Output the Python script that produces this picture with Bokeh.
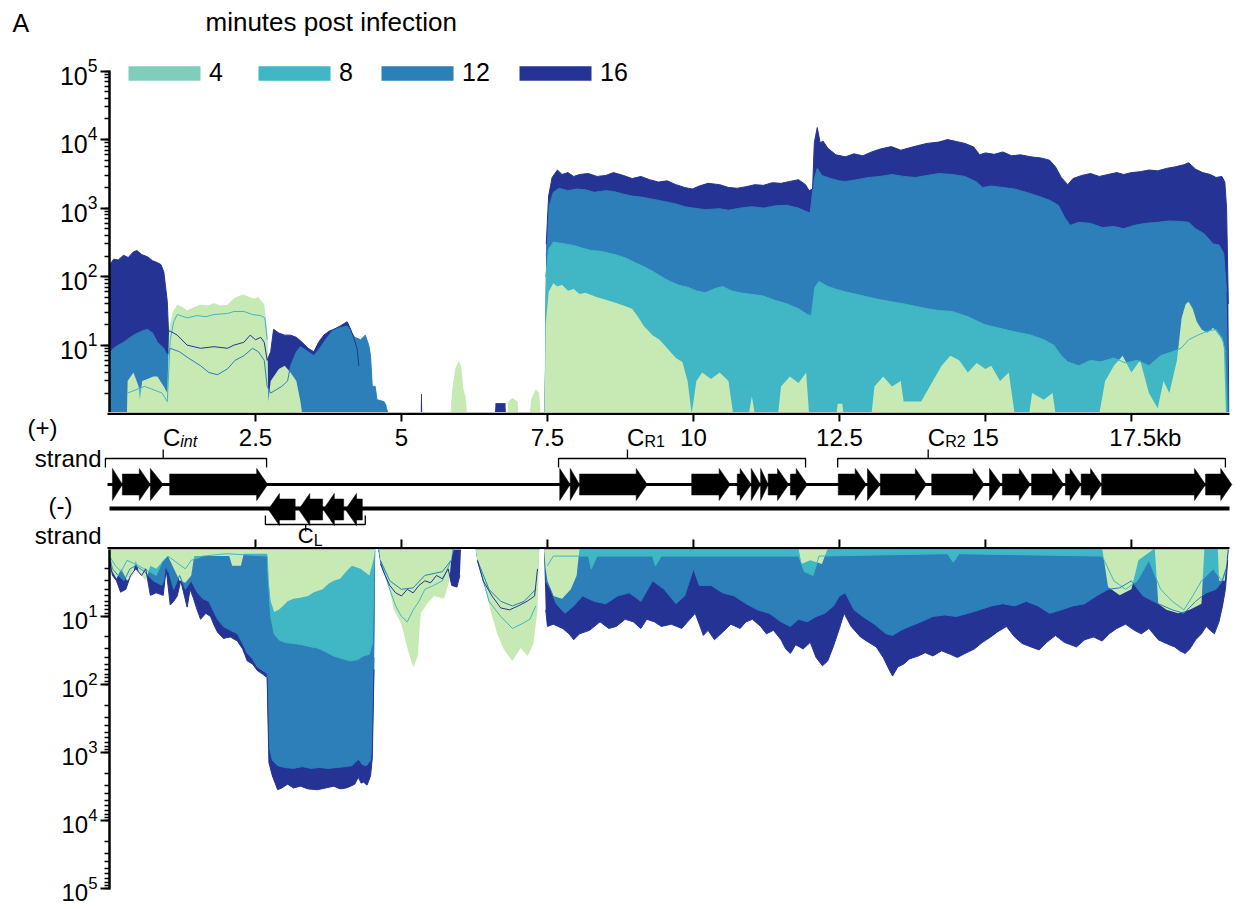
import numpy as np
from bokeh.plotting import figure
from bokeh.models import Range1d, Legend, LegendItem
from bokeh.layouts import column
from bokeh.embed import file_html
from bokeh.resources import INLINE
from bokeh.core.properties import value

FONT = "Liberation Sans"
KB_MAX = 19.18

# ---------------- data: coverage (+) strand, (kb, reads) ----------------
plus_16 = [(0.0, 1), (0.01, 150), (0.07, 180), (0.15, 175), (0.24, 205), (0.32, 190), (0.41, 230), (0.47, 240),
           (0.55, 210), (0.65, 195), (0.74, 170), (0.82, 160), (0.88, 150), (0.93, 118), (0.97, 60), (0.99, 43),
           (1.01, 16), (1.04, 16), (1.16, 14), (1.33, 10), (1.56, 9), (1.79, 9.5), (2.02, 9), (2.13, 10), (2.3, 11),
           (2.41, 14), (2.5, 12), (2.59, 13), (2.65, 11), (2.7, 6), (2.76, 8), (2.81, 17), (2.9, 15), (3.0, 14),
           (3.1, 14), (3.2, 13), (3.3, 11), (3.4, 9), (3.5, 8), (3.58, 11), (3.67, 14), (3.76, 16), (3.84, 17),
           (3.95, 19), (4.07, 22), (4.13, 17), (4.18, 13), (4.24, 9), (4.27, 5), (4.3, 1),
           (5.33, 1), (5.335, 1.9), (5.35, 1.9), (5.355, 1), (6.6, 1), (6.61, 1.4), (6.78, 1.4), (6.79, 1), (7.45, 1),
           (7.48, 300), (7.52, 1500), (7.58, 2800), (7.67, 3600), (7.75, 3100), (7.85, 3300), (7.95, 2900),
           (8.05, 3100), (8.2, 3200), (8.35, 2900), (8.5, 3000), (8.63, 3300), (8.8, 3000), (8.95, 2700),
           (9.1, 2900), (9.25, 2600), (9.4, 2400), (9.55, 2500), (9.7, 2200), (9.85, 2000), (9.98, 1900),
           (10.1, 2100), (10.25, 2300), (10.45, 2200), (10.6, 2000), (10.75, 1950), (10.9, 2050), (11.05, 2200),
           (11.2, 2150), (11.35, 2350), (11.5, 2300), (11.65, 2450), (11.8, 2600), (11.92, 2200), (11.98, 1800),
           (12.04, 1900), (12.07, 9000), (12.12, 15000), (12.17, 9000), (12.22, 9500), (12.3, 7500), (12.44, 6000),
           (12.6, 5600), (12.75, 6200), (12.9, 5800), (13.05, 6600), (13.2, 7300), (13.39, 7900), (13.55, 7000),
           (13.7, 7600), (13.85, 8200), (14.0, 8800), (14.2, 9200), (14.35, 10000), (14.5, 9400), (14.65, 8800),
           (14.8, 7800), (14.9, 6000), (15.0, 6400), (15.15, 6100), (15.3, 6600), (15.45, 5800), (15.6, 6000),
           (15.78, 5600), (15.95, 5400), (16.1, 5000), (16.2, 4000), (16.3, 2800), (16.41, 2200), (16.5, 2700),
           (16.65, 3000), (16.8, 3200), (16.95, 2900), (17.1, 3100), (17.25, 3300), (17.37, 3100), (17.5, 3300),
           (17.65, 3400), (17.8, 3600), (17.95, 3500), (18.1, 3800), (18.25, 4000), (18.4, 4300), (18.48, 4600),
           (18.6, 3700), (18.72, 3300), (18.85, 3100), (18.95, 2800), (19.05, 2900), (19.1, 2400), (19.13, 1000),
           (19.16, 40), (19.18, 1)]

plus_12 = [(0.0, 1), (0.01, 8), (0.07, 9), (0.15, 10), (0.24, 11), (0.41, 14), (0.55, 16), (0.65, 17), (0.74, 15),
           (0.82, 11), (0.93, 9), (0.99, 7), (1.04, 9), (1.2, 8), (1.35, 6.5), (1.56, 5), (1.7, 4), (1.85, 3.7),
           (2.02, 4.5), (2.15, 6), (2.3, 7), (2.45, 9), (2.55, 8), (2.65, 6), (2.7, 2.5), (2.76, 2), (2.95, 2.5),
           (3.05, 3), (3.1, 5), (3.2, 8), (3.27, 9.5), (3.4, 8), (3.5, 7), (3.6, 9), (3.7, 12), (3.84, 17),
           (3.95, 18), (4.07, 19), (4.2, 13), (4.3, 12), (4.38, 14), (4.44, 10), (4.47, 7), (4.5, 2.5), (4.55, 2.5),
           (4.58, 1.6), (4.7, 1.5), (4.74, 1.3), (4.78, 1), (7.45, 1),
           (7.48, 200), (7.52, 1000), (7.6, 1700), (7.7, 1950), (7.85, 1800), (8.0, 1900), (8.15, 1850),
           (8.3, 1700), (8.5, 1800), (8.63, 1750), (8.8, 1600), (8.95, 1500), (9.1, 1450), (9.3, 1350), (9.5, 1250),
           (9.7, 1150), (9.85, 1050), (10.0, 1000), (10.2, 950), (10.45, 980), (10.6, 930), (10.8, 1000),
           (11.0, 1050), (11.2, 1000), (11.4, 1080), (11.6, 1100), (11.8, 1000), (11.92, 900), (12.0, 850),
           (12.06, 2500), (12.12, 3800), (12.2, 3000), (12.35, 2700), (12.5, 2500), (12.6, 2450), (12.8, 2600),
           (13.0, 2800), (13.2, 2900), (13.4, 3100), (13.6, 2900), (13.8, 2800), (14.0, 3000), (14.2, 3200),
           (14.43, 3100), (14.65, 2900), (14.85, 2400), (14.95, 2000), (15.1, 2100), (15.3, 2000), (15.5, 1900),
           (15.7, 1700), (15.9, 1500), (16.1, 1300), (16.25, 1100), (16.35, 750), (16.45, 560), (16.6, 620),
           (16.8, 600), (17.0, 520), (17.2, 540), (17.37, 500), (17.55, 560), (17.75, 600), (17.95, 620),
           (18.15, 650), (18.35, 640), (18.48, 620), (18.6, 500), (18.75, 420), (18.9, 300), (19.0, 290),
           (19.08, 220), (19.13, 60), (19.17, 1)]

plus_8 = [(0.0, 1), (0.3, 1), (0.31, 2), (0.6, 2.5), (0.9, 2), (0.99, 1.5), (1.04, 12), (1.1, 22), (1.16, 28),
          (1.33, 25), (1.5, 27), (1.65, 26), (1.79, 28), (2.02, 29), (2.13, 31), (2.3, 31), (2.45, 28), (2.59, 27),
          (2.66, 25), (2.7, 12), (2.72, 1), (7.45, 1),
          (7.47, 100), (7.52, 250), (7.6, 320), (7.7, 310), (7.8, 300), (7.95, 285), (8.1, 260), (8.25, 240),
          (8.4, 235), (8.55, 220), (8.7, 205), (8.85, 185), (9.0, 160), (9.15, 140), (9.3, 120), (9.45, 100),
          (9.6, 85), (9.75, 75), (9.9, 70), (10.05, 62), (10.2, 58), (10.35, 66), (10.5, 72), (10.65, 62),
          (10.8, 58), (11.0, 55), (11.2, 52), (11.4, 45), (11.6, 40), (11.8, 34), (11.95, 28), (12.02, 27),
          (12.08, 70), (12.15, 85), (12.3, 72), (12.45, 65), (12.6, 60), (12.8, 55), (13.0, 50), (13.2, 46),
          (13.39, 43), (13.6, 40), (13.8, 37), (14.0, 34), (14.2, 32), (14.43, 31), (14.7, 26), (14.98, 20),
          (15.2, 18), (15.45, 16), (15.78, 14), (16.0, 12), (16.17, 10), (16.3, 7), (16.41, 5.7), (16.6, 5),
          (16.8, 6), (16.97, 5.7), (17.2, 6.5), (17.4, 5.5), (17.6, 6), (17.8, 5), (18.0, 7), (18.2, 8),
          (18.35, 9), (18.48, 12), (18.64, 14), (18.8, 16), (18.95, 17), (19.05, 13), (19.11, 8), (19.15, 1)]

plus_4 = [(0.0, 1), (0.3, 1), (0.31, 3), (0.41, 4), (0.5, 2.5), (0.52, 1.6), (0.56, 3), (0.65, 3.2), (0.75, 3.5),
          (0.82, 3.5), (0.93, 2.5), (0.99, 2), (1.02, 17), (1.08, 30), (1.16, 39), (1.25, 36), (1.33, 32),
          (1.45, 36), (1.56, 39), (1.68, 38), (1.79, 41), (1.9, 38), (2.02, 39), (2.13, 48), (2.22, 52), (2.3, 55),
          (2.4, 50), (2.47, 48), (2.55, 50), (2.59, 45), (2.65, 40), (2.7, 17), (2.72, 1.5), (2.76, 3), (2.9, 4.5),
          (3.0, 5), (3.1, 4), (3.2, 3), (3.27, 1.5), (3.3, 1),
          (5.84, 1), (5.87, 2.3), (5.92, 4.5), (5.98, 5.9), (6.02, 5), (6.06, 2.3), (6.1, 1.7), (6.12, 1),
          (6.82, 1), (6.83, 1.5), (6.9, 1.7), (6.99, 1.5), (7.0, 1), (7.2, 1), (7.22, 1.6), (7.3, 2.3), (7.36, 2.0),
          (7.38, 1), (7.45, 1),
          (7.47, 20), (7.52, 60), (7.6, 80), (7.67, 72), (7.75, 76), (7.85, 62), (7.95, 66), (8.05, 56),
          (8.15, 58), (8.23, 55), (8.35, 50), (8.5, 46), (8.65, 42), (8.8, 38), (8.95, 34), (9.05, 26),
          (9.15, 19), (9.3, 14), (9.42, 12), (9.55, 9), (9.7, 6.5), (9.81, 5.7), (9.9, 3), (9.97, 1), (10.05, 3),
          (10.15, 4), (10.3, 3.2), (10.45, 4), (10.6, 3), (10.68, 1), (10.95, 1), (11.0, 1.8), (11.05, 1),
          (11.45, 1), (11.5, 2.5), (11.65, 3.5), (11.8, 2.8), (11.93, 4), (11.98, 1), (12.45, 1), (12.47, 1.4),
          (12.55, 1.4), (12.57, 1), (13.05, 1), (13.1, 2.5), (13.25, 3.5), (13.4, 2.5), (13.55, 3), (13.6, 1.5),
          (13.9, 1.5), (14.1, 3), (14.25, 5), (14.4, 7), (14.55, 6), (14.7, 4), (14.85, 5.5), (15.0, 4.5),
          (15.1, 5), (15.25, 3), (15.4, 4), (15.5, 1), (15.75, 1), (15.8, 2), (16.0, 1.6), (16.15, 2), (16.2, 1),
          (16.95, 1), (17.05, 3), (17.2, 5), (17.35, 7), (17.5, 4), (17.65, 6), (17.8, 2), (17.95, 1.2),
          (18.05, 3), (18.15, 2), (18.28, 6), (18.36, 25), (18.43, 40), (18.48, 43), (18.55, 34), (18.62, 22),
          (18.7, 17), (18.8, 15), (18.9, 18), (19.0, 14), (19.08, 11), (19.12, 1)]

# ---------------- data: coverage (-) strand, (kb, reads) ----------------
minus_16 = [(0.0, 1.5), (0.05, 2.5), (0.12, 3), (0.19, 4.4), (0.28, 4), (0.36, 2.5), (0.45, 2), (0.55, 2.5),
            (0.62, 2), (0.7, 4.9), (0.8, 4.5), (0.92, 4.9), (0.97, 2), (1.04, 6.8), (1.1, 6), (1.16, 5), (1.22, 3),
            (1.33, 7.3), (1.38, 4), (1.44, 5.5), (1.5, 8), (1.56, 11), (1.65, 9), (1.73, 10), (1.8, 14),
            (1.85, 17), (1.95, 21), (2.07, 20), (2.19, 23), (2.28, 30), (2.36, 45), (2.45, 50), (2.53, 62),
            (2.62, 70), (2.7, 79), (2.73, 1400), (2.79, 2200), (2.88, 3500), (2.95, 3300), (3.05, 2900),
            (3.15, 3300), (3.27, 3100), (3.4, 3400), (3.56, 3500), (3.7, 3300), (3.84, 3100), (3.95, 3400),
            (4.05, 3300), (4.13, 3100), (4.2, 2900), (4.26, 2300), (4.31, 2800), (4.35, 2700), (4.41, 3000),
            (4.47, 2200), (4.5, 1200), (4.53, 60), (4.55, 1),
            (4.6, 1), (4.64, 1.7), (4.72, 2.5), (4.8, 3.5), (4.9, 4.5), (5.0, 5), (5.1, 4), (5.2, 4.5), (5.3, 3.5),
            (5.4, 3), (5.5, 3.2), (5.6, 2.5), (5.7, 2.8), (5.8, 2), (5.86, 3.5), (5.95, 3.7), (6.0, 2.5), (6.02, 1),
            (6.27, 1), (6.3, 1.5), (6.4, 3), (6.55, 5), (6.7, 7.5), (6.85, 8), (7.0, 7), (7.15, 6), (7.28, 5),
            (7.33, 2), (7.36, 1), (7.44, 1),
            (7.47, 8), (7.5, 14), (7.6, 13), (7.76, 15), (7.87, 18), (7.95, 22), (8.05, 18), (8.22, 16), (8.4, 12),
            (8.55, 15), (8.68, 14), (8.83, 11), (8.97, 12), (9.1, 15), (9.2, 11), (9.33, 12), (9.45, 14),
            (9.62, 13), (9.8, 15), (9.9, 12), (10.03, 9), (10.1, 13), (10.17, 19), (10.25, 16), (10.36, 22),
            (10.5, 17), (10.64, 13), (10.8, 15), (10.9, 12), (11.01, 11), (11.15, 14), (11.25, 18), (11.37, 16),
            (11.5, 22), (11.58, 30), (11.66, 35), (11.75, 26), (11.88, 30), (12.0, 24), (12.1, 40), (12.21, 53),
            (12.3, 45), (12.4, 27), (12.5, 15), (12.58, 9), (12.7, 14), (12.86, 20), (13.0, 24), (13.13, 28),
            (13.25, 40), (13.35, 60), (13.41, 75), (13.5, 55), (13.6, 50), (13.7, 42), (13.85, 38), (13.97, 34),
            (14.1, 38), (14.25, 32), (14.4, 36), (14.52, 40), (14.65, 35), (14.81, 30), (14.95, 24), (15.09, 20),
            (15.2, 17), (15.36, 14), (15.5, 20), (15.63, 25), (15.78, 28), (15.92, 31), (16.05, 24), (16.2, 19),
            (16.35, 24), (16.56, 28), (16.7, 22), (16.85, 20), (17.0, 23), (17.12, 18), (17.25, 15), (17.4, 13),
            (17.55, 16), (17.67, 18), (17.8, 15), (17.96, 22), (18.1, 25), (18.24, 28), (18.33, 32), (18.42, 35),
            (18.5, 30), (18.6, 22), (18.7, 18), (18.78, 14), (18.85, 16), (18.92, 18), (19.0, 12), (19.06, 7),
            (19.11, 4), (19.15, 1.5), (19.17, 1)]

minus_12 = [(0.0, 1.3), (0.05, 2), (0.15, 2.5), (0.25, 3), (0.35, 2), (0.45, 1.8), (0.6, 2.2), (0.75, 3), (0.9, 3.5),
            (1.0, 2), (1.1, 4), (1.2, 2.5), (1.3, 4), (1.4, 3), (1.5, 4.4), (1.6, 5.5), (1.7, 6), (1.85, 11),
            (1.95, 14), (2.07, 16), (2.19, 18), (2.28, 25), (2.36, 35), (2.45, 42), (2.53, 55), (2.62, 62),
            (2.7, 69), (2.73, 800), (2.79, 1300), (2.88, 1550), (3.0, 1650), (3.15, 1700), (3.3, 1600),
            (3.45, 1700), (3.6, 1650), (3.75, 1700), (3.9, 1650), (4.05, 1600), (4.15, 1550), (4.22, 1350),
            (4.27, 1250), (4.33, 1500), (4.4, 1550), (4.47, 1300), (4.5, 700), (4.53, 40), (4.55, 1),
            (4.6, 1), (4.64, 1.5), (4.8, 3), (5.0, 4), (5.2, 3.8), (5.4, 2.5), (5.7, 2.2), (5.85, 1.5), (5.9, 1),
            (6.27, 1), (6.3, 1.5), (6.5, 4), (6.7, 6), (6.9, 7), (7.1, 6), (7.3, 4), (7.36, 1), (7.44, 1),
            (7.47, 3), (7.55, 4), (7.65, 6.5), (7.8, 9), (7.95, 7), (8.1, 5), (8.3, 6), (8.5, 6.5), (8.7, 5),
            (8.9, 4.5), (9.1, 6), (9.3, 3), (9.5, 4), (9.7, 6.5), (9.85, 5), (10.0, 2), (10.1, 3.5), (10.3, 3.5),
            (10.5, 4.5), (10.7, 5), (10.9, 6.5), (11.1, 8), (11.3, 9), (11.5, 12), (11.66, 14), (11.8, 11),
            (11.95, 12), (12.1, 10), (12.25, 9), (12.4, 7), (12.5, 5), (12.6, 4.5), (12.75, 8), (12.9, 10),
            (13.1, 13), (13.3, 18), (13.41, 19), (13.55, 16), (13.7, 14), (13.9, 12), (14.1, 10), (14.3, 9.5),
            (14.5, 10), (14.7, 9), (14.9, 8), (15.1, 7), (15.3, 6.5), (15.5, 7), (15.7, 6), (15.9, 7), (16.1, 9),
            (16.3, 8), (16.5, 7), (16.7, 6.5), (16.9, 5), (17.1, 4), (17.3, 3.8), (17.5, 3), (17.7, 5),
            (17.96, 6.5), (18.2, 8), (18.4, 9), (18.6, 6), (18.78, 4.5), (18.95, 4), (19.06, 3), (19.12, 2),
            (19.15, 1)]

minus_8 = [(0.0, 1.3), (0.1, 1.8), (0.2, 2.2), (0.3, 1.5), (0.5, 1.8), (0.8, 2.5), (0.9, 1.6), (1.0, 1.3), (1.3, 2),
           (1.4, 1.5), (1.6, 1.3), (2.0, 1.2), (2.7, 1.3), (2.72, 3), (2.76, 10), (2.82, 18), (2.9, 22), (3.0, 24),
           (3.15, 25), (3.3, 26), (3.45, 28), (3.56, 29), (3.7, 33), (3.84, 38), (4.0, 42), (4.13, 45), (4.25, 43),
           (4.35, 38), (4.45, 36), (4.5, 25), (4.53, 3), (4.55, 1),
           (4.6, 1), (4.64, 1.5), (4.8, 4), (4.9, 7), (5.0, 10), (5.1, 12), (5.2, 8), (5.3, 6), (5.4, 4),
           (5.55, 3.5), (5.7, 3), (5.85, 1.5), (5.9, 1), (6.27, 1), (6.3, 1.5), (6.5, 6), (6.7, 10), (6.9, 15),
           (7.05, 13), (7.2, 11), (7.3, 7), (7.36, 1), (7.44, 1), (7.5, 1.8), (7.6, 1.3), (8.2, 1.3), (8.25, 2),
           (8.35, 1.3), (9.3, 1.3), (9.35, 1.8), (9.45, 1.3), (11.8, 1.3), (11.9, 2.2), (12.05, 2.5), (12.15, 1.3),
           (14.35, 1.2), (14.45, 1.6), (14.55, 1.2), (17.0, 1.3), (17.2, 3), (17.4, 4), (17.6, 3), (17.8, 1.5),
           (18.0, 4), (18.2, 6), (18.4, 8), (18.55, 5), (18.7, 3), (18.9, 2), (19.05, 3), (19.12, 2), (19.15, 1)]

minus_4 = [(0.0, 1.5), (0.05, 2.2), (0.12, 2.8), (0.2, 2), (0.3, 3), (0.4, 2.5), (0.45, 1.5), (0.5, 2.2), (0.62, 3),
           (0.7, 1.8), (0.8, 2), (1.0, 1.3), (1.2, 3), (1.3, 3.2), (1.4, 2.5), (1.45, 1.3), (2.05, 1.3), (2.1, 1.8),
           (2.25, 1.8), (2.3, 1.2), (2.7, 1.2), (2.72, 3), (2.76, 6), (2.82, 8.6), (2.9, 8), (2.97, 7), (3.05, 6),
           (3.15, 5.5), (3.27, 5.3), (3.4, 5), (3.5, 4.4), (3.65, 4), (3.75, 3.3), (3.84, 3), (3.95, 2.8),
           (4.05, 2.2), (4.15, 1.8), (4.3, 2), (4.45, 2.5), (4.52, 1.5), (4.55, 1),
           (4.62, 1), (4.64, 1.5), (4.76, 3), (4.87, 8), (5.0, 13), (5.1, 29), (5.2, 56), (5.28, 38), (5.33, 9),
           (5.44, 6.5), (5.56, 5), (5.73, 5.5), (5.82, 3), (5.87, 1),
           (6.27, 1), (6.3, 1.5), (6.41, 3), (6.52, 8), (6.64, 18), (6.75, 30), (6.9, 45), (7.04, 29), (7.16, 38),
           (7.26, 25), (7.33, 8), (7.36, 1), (7.44, 1), (7.47, 2), (7.5, 3), (7.6, 5), (7.75, 5.5), (7.9, 4),
           (8.0, 2.5), (8.05, 1), (11.8, 1), (11.85, 1.7), (12.0, 1.5), (12.2, 1.7), (12.3, 1), (17.0, 1),
           (17.1, 3.7), (17.3, 4.9), (17.5, 4), (17.62, 1.5), (17.9, 1), (17.96, 6.5), (18.1, 8), (18.3, 9),
           (18.5, 8), (18.7, 6.5), (18.75, 1), (18.98, 1), (19.0, 3), (19.1, 3), (19.15, 1)]

# ---------------- genes (kb start, kb end) ----------------
plus_genes = [(0.05, 0.22), (0.22, 0.70), (0.70, 0.92), (1.03, 2.71),
              (7.71, 7.89), (7.89, 8.05), (8.05, 9.21), (9.97, 10.63), (10.75, 10.99), (10.99, 11.15),
              (11.15, 11.28), (11.28, 11.63), (11.66, 11.95),
              (12.48, 12.96), (12.98, 13.20), (13.20, 13.99), (14.08, 14.98), (15.07, 15.27), (15.29, 15.77),
              (15.79, 16.34), (16.37, 16.64), (16.64, 16.99), (16.99, 18.77), (18.77, 19.22)]
minus_genes = [(2.72, 3.18), (3.24, 3.65), (3.66, 4.01), (4.04, 4.33)]

# operons: (main, subscript, start kb, end kb, centre kb, strand)
operons = [("C", "int", -0.07, 2.69, 0.92, "+"), ("C", "R1", 7.69, 11.92, 8.87, "+"),
           ("C", "R2", 12.47, 19.11, 14.02, "+"), ("C", "L", 2.67, 4.38, 3.36, "-")]

x_ticks = [2.5, 5, 7.5, 10, 12.5, 15, 17.5]
x_tick_labels = ["2.5", "5", "7.5", "10", "12.5", "15", "17.5kb"]
times = ["4", "8", "12", "16"]
area_colors = {"4": "#c7e9b4", "8": "#41b6c4", "12": "#2c7fb8", "16": "#253494"}
legend_colors = {"4": "#7fcdbb", "8": "#41b6c4", "12": "#2c7fb8", "16": "#253494"}

# ---------------- layout constants ----------------
LEFT, RIGHT, W = 109, 19, 1248
FRAME_W = W - LEFT - RIGHT
PX_PER_KB = FRAME_W / KB_MAX
TOP0 = 45          # height of the heading strip
Y_LO, Y_HI = 1.04, 1.02e5
PANEL_PX = 342     # pixels from 10^0 to 10^5 (top panel)
DEC_PX = PANEL_PX / (np.log10(Y_HI) - np.log10(Y_LO))


def px2kb(px):
    return (px - LEFT) / PX_PER_KB


def style_yaxis(p, size):
    ax = p.yaxis[0]
    ax.axis_line_width = 2.5
    ax.axis_line_color = "black"
    ax.major_tick_line_width = 2
    ax.minor_tick_line_width = 1.3
    ax.major_tick_out = 9
    ax.major_tick_in = 0
    ax.minor_tick_out = 5
    ax.minor_tick_in = 0
    ax.major_label_text_font = FONT
    ax.major_label_text_font_size = size
    ax.major_label_text_color = "black"
    ax.major_label_standoff = 3
    ax.bounds = (Y_LO, Y_HI)
    p.grid.visible = False
    p.outline_line_color = None


def draw_series(p, series):
    for t in ["16", "12", "8", "4"]:
        xs = np.array([a for a, b in series[t]], dtype=float)
        ys = np.array([b for a, b in series[t]], dtype=float)
        p.varea(x=xs, y1=np.ones_like(ys), y2=ys, fill_color=area_colors[t])
    for t in ["8", "12", "16"]:
        xs = np.array([a for a, b in series[t]], dtype=float)
        ys = np.array([b if b > 1.05 else np.nan for a, b in series[t]], dtype=float)
        p.line(x=xs, y=ys, line_color=area_colors[t], line_width=1)


# ---------------- heading strip ----------------
p0 = figure(width=W, height=TOP0, x_range=Range1d(0, W), y_range=Range1d(TOP0, 0),
            x_axis_location=None, y_axis_location=None, toolbar_location=None, output_backend="svg",
            min_border_left=0, min_border_right=0, min_border_top=0, min_border_bottom=0, title=None)
p0.frame_align = False
p0.outline_line_color = None
p0.grid.visible = False
p0.text(x=[12, 205], y=[22, 21], text=["A", "minutes post infection"], text_baseline="middle",
        text_align="left", text_font=value(FONT), text_font_size=["25px", "26px"], text_color="black")

# ---------------- top panel ----------------
frame1_h = 412 - TOP0
y_top = 10 ** (np.log10(Y_LO) + frame1_h / DEC_PX)
p1 = figure(width=W, height=frame1_h, x_range=Range1d(0, KB_MAX), y_range=Range1d(Y_LO, y_top),
            y_axis_type="log", x_axis_location=None, toolbar_location=None, output_backend="svg",
            min_border_left=LEFT, min_border_right=RIGHT, min_border_top=0, min_border_bottom=0, title=None)
style_yaxis(p1, "25px")
draw_series(p1, {"4": plus_4, "8": plus_8, "12": plus_12, "16": plus_16})

# legend keys: the key glyph is drawn inset by 10 % of its box, so the box is enlarged accordingly
legend_x = [128, 258, 381, 519]
nan1 = np.array([np.nan])
for t, lx in zip(times, legend_x):
    key = p1.quad(left=nan1, right=nan1, top=nan1, bottom=nan1, fill_color=legend_colors[t], line_color=None)
    leg = Legend(items=[LegendItem(label=t, renderers=[key])], location=(lx - 9 - LEFT, 412 - 87),
                 orientation="horizontal", glyph_width=90, glyph_height=18, label_standoff=-6,
                 padding=0, margin=0, spacing=0, border_line_color=None, background_fill_alpha=0,
                 label_text_font=FONT, label_text_font_size="25px", label_height=28,
                 label_text_baseline="middle", label_text_color="black")
    p1.add_layout(leg)

# ---------------- gene map ----------------
p2 = figure(width=W, height=137, x_range=Range1d(px2kb(0), px2kb(W)), y_range=Range1d(549, 412),
            x_axis_location=None, y_axis_location=None, toolbar_location=None, output_backend="svg",
            min_border_left=0, min_border_right=0, min_border_top=0, min_border_bottom=0, title=None)
p2.frame_align = False
p2.outline_line_color = None
p2.grid.visible = False

# axis lines + ticks for the two coverage panels
ax_x0 = px2kb(107)
p2.segment(x0=[ax_x0, ax_x0], y0=[413.3, 547.7], x1=[KB_MAX, KB_MAX], y1=[413.3, 547.7],
           line_color="black", line_width=2.6)
p2.segment(x0=x_ticks, y0=[413] * len(x_ticks), x1=x_ticks, y1=[421] * len(x_ticks), line_color="black", line_width=2)
p2.segment(x0=x_ticks, y0=[539] * len(x_ticks), x1=x_ticks, y1=[548] * len(x_ticks), line_color="black", line_width=2)
offsets = [14 if lab.endswith("kb") else 0 for lab in x_tick_labels]
p2.text(x=x_ticks, y=[437] * len(x_ticks), text=x_tick_labels, x_offset=offsets, text_align="center",
        text_baseline="middle", text_font=value(FONT), text_font_size="24px", text_color="black")

# strand lines
p2.segment(x0=[px2kb(107), px2kb(109)], y0=[484, 508], x1=[KB_MAX, KB_MAX], y1=[484, 508],
           line_color="black", line_width=[3, 4])

# gene arrows
HEAD = 0.19


def arrow(s, e, yc, strand):
    hb, hh = 10.5, 16
    if e - s <= HEAD * 1.2:
        if strand == "+":
            return [s, e, s], [yc - hh, yc, yc + hh]
        return [e, s, e], [yc - hh, yc, yc + hh]
    if strand == "+":
        return ([s, e - HEAD, e - HEAD, e, e - HEAD, e - HEAD, s],
                [yc - hb, yc - hb, yc - hh, yc, yc + hh, yc + hb, yc + hb])
    return ([e, s + HEAD, s + HEAD, s, s + HEAD, s + HEAD, e],
            [yc - hb, yc - hb, yc - hh, yc, yc + hh, yc + hb, yc + hb])


axs, ays = [], []
for s, e in plus_genes:
    a, b = arrow(s, e, 484, "+")
    axs.append(a)
    ays.append(b)
for s, e in minus_genes:
    a, b = arrow(s, e, 509, "-")
    axs.append(a)
    ays.append(b)
p2.patches(xs=axs, ys=ays, fill_color="black", line_color="black", line_width=0.5)

# operon brackets and names
bxs, bys = [], []
main_x, main_y, main_size, sub_x, sub_y, sub_t, sub_style = [], [], [], [], [], [], []
for main, sub, s, e, c, strand in operons:
    if strand == "+":
        yl, ye, yc = 458, 467, 449
        main_y.append(437)
        sub_y.append(441)
        main_size.append("24px")
        lab_x = c + 17 / PX_PER_KB
    else:
        yl, ye, yc = 524, 515, 531
        main_y.append(535)
        sub_y.append(540)
        main_size.append("22px")
        lab_x = c + 8 / PX_PER_KB
    bxs += [[s, s, e, e], [c, c]]
    bys += [[ye, yl, yl, ye], [yl, yc]]
    main_x.append(lab_x)
    sub_x.append(lab_x)
    sub_t.append(sub)
    sub_style.append("italic" if sub == "int" else "normal")
p2.multi_line(xs=bxs, ys=bys, line_color="black", line_width=1.3)
p2.text(x=main_x, y=main_y, text=["C"] * len(main_x), text_align="right", text_baseline="middle",
        text_font=value(FONT), text_font_size=main_size, text_color="black")
p2.text(x=sub_x, y=sub_y, text=sub_t, text_align="left", text_baseline="middle", text_font_style=sub_style,
        text_font=value(FONT), text_font_size="16px", text_color="black")

# strand labels
p2.text(x=[px2kb(42), px2kb(60)], y=[427, 505], text=["(+)", "(-)"], text_align="center",
        text_baseline="middle", text_font=value(FONT), text_font_size="24px", text_color="black")
p2.text(x=[px2kb(101), px2kb(101)], y=[458, 535], text=["strand", "strand"], text_align="right",
        text_baseline="middle", text_font=value(FONT), text_font_size="24px", text_color="black")

# ---------------- bottom panel ----------------
p3 = figure(width=W, height=360, x_range=Range1d(0, KB_MAX), y_range=Range1d(Y_HI, Y_LO),
            y_axis_type="log", x_axis_location=None, toolbar_location=None, output_backend="svg",
            min_border_left=LEFT, min_border_right=RIGHT, min_border_top=0, min_border_bottom=20, title=None)
style_yaxis(p3, "24px")
draw_series(p3, {"4": minus_4, "8": minus_8, "12": minus_12, "16": minus_16})

layout = column(p0, p1, p2, p3, spacing=0)
open("out.html", "w").write(file_html(layout, INLINE))
